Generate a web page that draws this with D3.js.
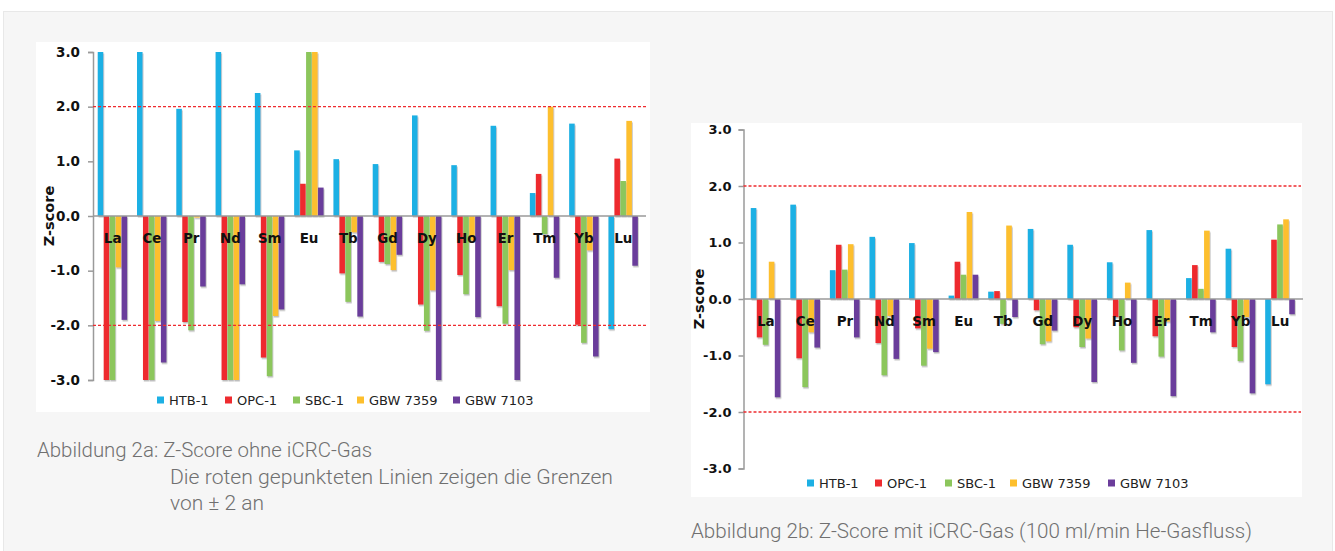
<!DOCTYPE html>
<meta charset="utf-8">
<script src="https://d3js.org/d3.v7.min.js"></script>
<style>
  body { margin: 0; background: #fff; }
  svg { display: block; }
</style>
<body>
<div id="my_dataviz"></div>
<script>

// categories and series
var elements = ["La","Ce","Pr","Nd","Sm","Eu","Tb","Gd","Dy","Ho","Er","Tm","Yb","Lu"]
var seriesNames = ["HTB-1","OPC-1","SBC-1","GBW 7359","GBW 7103"]
var yTicks = [3, 2, 1, 0, -1, -2, -3]
var limits = [2, -2]

// Abbildung 2a: ohne iCRC-Gas
var htbA  = [3.0, 3.0, 1.96, 3.0, 2.25, 1.2, 1.04, 0.95, 1.84, 0.93, 1.65, 0.42, 1.69, -2.07]
var opcA  = [-3.0, -3.0, -1.94, -3.0, -2.59, 0.59, -1.05, -0.84, -1.62, -1.08, -1.65, 0.77, -1.99, 1.05]
var sbcA  = [-3.0, -3.0, -2.09, -3.0, -2.93, 3.0, -1.57, -0.88, -2.1, -1.43, -1.97, -0.33, -2.32, 0.64]
var gbw7359A = [-0.94, -1.92, -0.03, -3.0, -1.83, 3.0, -0.3, -0.99, -1.36, -0.45, -0.99, 2.0, -0.63, 1.74]
var gbw7103A = [-1.9, -2.68, -1.29, -1.25, -1.71, 0.52, -1.84, -0.71, -3.0, -1.85, -3.0, -1.13, -2.57, -0.91]

// Abbildung 2b: mit iCRC-Gas (100 ml/min He-Gasfluss)
var htbB  = [1.61, 1.67, 0.51, 1.1, 0.99, 0.06, 0.13, 1.24, 0.96, 0.65, 1.22, 0.37, 0.89, -1.51]
var opcB  = [-0.68, -1.05, 0.96, -0.78, -0.52, 0.66, 0.14, -0.2, -0.5, -0.32, -0.66, 0.6, -0.85, 1.05]
var sbcB  = [-0.81, -1.56, 0.52, -1.35, -1.18, 0.43, -0.44, -0.8, -0.85, -0.91, -1.02, 0.18, -1.1, 1.32]
var gbw7359B = [0.66, -0.59, 0.97, -0.3, -0.88, 1.54, 1.3, -0.75, -0.7, 0.29, -0.4, 1.21, -0.32, 1.41]
var gbw7103B = [-1.74, -0.86, -0.68, -1.06, -0.94, 0.43, -0.32, -0.56, -1.47, -1.13, -1.72, -0.59, -1.67, -0.27]

var color = d3.scaleOrdinal()
  .domain(seriesNames)
  .range(['#1db0e4','#ee2b2f','#8cc65c','#fdbf2d','#6b3d9b'])

var svg = d3.select("#my_dataviz")
  .append("svg")
    .attr("width", 1335)
    .attr("height", 551)

// drop shadow like the excel bars
var defs = svg.append("defs")
defs.append("filter").attr("id", "shadow")
    .attr("x", "-50%").attr("y", "-10%").attr("width", "200%").attr("height", "130%")
  .append("feDropShadow")
    .attr("dx", 0.8).attr("dy", 1.5).attr("stdDeviation", 0.7)
    .attr("flood-color", "#888").attr("flood-opacity", 0.55)

// grey page panel
svg.append("rect")
  .attr("x", 3.5).attr("y", 11.5).attr("width", 1329).attr("height", 545)
  .attr("fill", "#f6f6f6").attr("stroke", "#e8e8e8")

function drawChart(cfg) {
  var table = cfg.series.map(function(vals, i) {
    return { name: seriesNames[i], values: vals }
  })

  svg.append("rect")
    .attr("x", cfg.box[0]).attr("y", cfg.box[1])
    .attr("width", cfg.box[2]).attr("height", cfg.box[3])
    .attr("fill", "#fff")

  var x0 = d3.scaleBand()
    .domain(elements)
    .range(cfg.xRange)
    .paddingInner(0.24)
    .paddingOuter(0.12)
  var x1 = d3.scaleBand()
    .domain(seriesNames)
    .range([0, x0.bandwidth()])
  var y = d3.scaleLinear()
    .domain([-3, 3])
    .range(cfg.yRange)
    .clamp(true)

  var g = svg.append("g")

  // y axis
  var yAxis = g.append("g")
    .attr("transform", "translate(" + cfg.axisX + ",0)")
    .call(d3.axisLeft(y).tickValues(yTicks).tickSize(5).tickPadding(cfg.tickPad)
      .tickFormat(d3.format(".1f")))
  yAxis.select(".domain").attr("stroke", "#9a9a9a").attr("stroke-width", 1.5)
  yAxis.selectAll(".tick line").attr("stroke", "#9a9a9a").attr("stroke-width", 1.5)
  yAxis.selectAll("text")
    .attr("font-family", "DejaVu Sans")
    .attr("font-weight", "bold")
    .attr("font-size", cfg.tickSize)
    .attr("fill", "#111")
    .text(function(d) { return d3.format(".1f")(d).replace("−", "-") })

  // bars
  g.append("g").selectAll("g")
    .data(table)
    .enter().append("g")
      .attr("fill", function(d) { return color(d.name) })
      .attr("filter", "url(#shadow)")
    .selectAll("rect")
    .data(function(d) {
      return d.values.map(function(v, i) { return { name: d.name, el: elements[i], v: v } })
    })
    .enter().append("rect")
      .attr("x", function(d) { return x0(d.el) + x1(d.name) })
      .attr("width", x1.bandwidth() - 0.4)
      .attr("y", function(d) { return y(Math.max(0, d.v)) })
      .attr("height", function(d) { return Math.abs(y(d.v) - y(0)) })

  // zero line
  g.append("line")
    .attr("x1", cfg.axisX).attr("x2", cfg.xRange[1] + 3)
    .attr("y1", y(0)).attr("y2", y(0))
    .attr("stroke", "#9a9a9a").attr("stroke-width", 1.5)

  // +-2 limits
  g.selectAll(".limit")
    .data(limits)
    .enter().append("line")
      .attr("x1", cfg.axisX).attr("x2", cfg.lineEnd)
      .attr("y1", function(d) { return y(d) }).attr("y2", function(d) { return y(d) })
      .attr("stroke", "#ee2b2f").attr("stroke-width", 1.3)
      .attr("stroke-dasharray", "3,2")

  // category labels
  g.selectAll(".cat")
    .data(elements)
    .enter().append("text")
      .attr("x", function(d) { return x0(d) + x0.bandwidth() / 2 })
      .attr("y", y(0) + 27)
      .attr("text-anchor", "middle")
      .attr("font-family", "DejaVu Sans")
      .attr("font-weight", "bold")
      .attr("font-size", 13.5)
      .attr("fill", "#111")
      .text(function(d) { return d })

  // y title
  g.append("text")
    .attr("transform", "translate(" + cfg.titleX + "," + y(0) + ") rotate(-90)")
    .attr("text-anchor", "middle")
    .attr("font-family", "DejaVu Sans")
    .attr("font-weight", "bold")
    .attr("font-size", 14.5)
    .attr("fill", "#111")
    .text("Z-score")

  // legend
  var leg = g.selectAll(".leg")
    .data(seriesNames)
    .enter().append("g")
      .attr("transform", function(d, i) { return "translate(" + cfg.legendX[i] + "," + cfg.legendY + ")" })
  leg.append("rect")
    .attr("x", 0).attr("y", -3.5).attr("width", 7).attr("height", 7)
    .attr("fill", function(d) { return color(d) })
  leg.append("text")
    .attr("x", 12).attr("y", 4.8)
    .attr("font-family", "DejaVu Sans")
    .attr("font-size", 13)
    .attr("fill", "#222")
    .text(function(d) { return d })
}

drawChart({
  series: [htbA, opcA, sbcA, gbw7359A, gbw7103A],
  box: [36, 42, 614, 370],
  xRange: [93, 643],
  yRange: [380, 52],
  axisX: 93,
  lineEnd: 647,
  tickPad: 8,
  tickSize: 13.5,
  titleX: 54,
  legendX: [157, 225, 293, 357, 453],
  legendY: 400
})

drawChart({
  series: [htbB, opcB, sbcB, gbw7359B, gbw7103B],
  box: [691, 123, 611, 374],
  xRange: [746, 1300],
  yRange: [468.5, 129.5],
  axisX: 743.5,
  lineEnd: 1301,
  tickPad: 7,
  tickSize: 13,
  titleX: 704,
  legendX: [807, 875, 945, 1010, 1108],
  legendY: 483
})

// captions
var captions = [
  { x: 37, y: 456.5, w: 335, t: "Abbildung 2a: Z-Score ohne iCRC-Gas" },
  { x: 170, y: 483.5, w: 443, t: "Die roten gepunkteten Linien zeigen die Grenzen" },
  { x: 170, y: 510, w: 94, t: "von ± 2 an" },
  { x: 691, y: 538, w: 561, t: "Abbildung 2b: Z-Score mit iCRC-Gas (100 ml/min He-Gasfluss)" }
]
svg.selectAll(".cap")
  .data(captions)
  .enter().append("text")
    .attr("x", function(d) { return d.x })
    .attr("y", function(d) { return d.y })
    .attr("textLength", function(d) { return d.w })
    .attr("lengthAdjust", "spacingAndGlyphs")
    .attr("font-family", "Roboto")
    .attr("font-weight", 300)
    .attr("font-size", 20)
    .attr("fill", "#707070")
    .text(function(d) { return d.t })

</script>
</body>
